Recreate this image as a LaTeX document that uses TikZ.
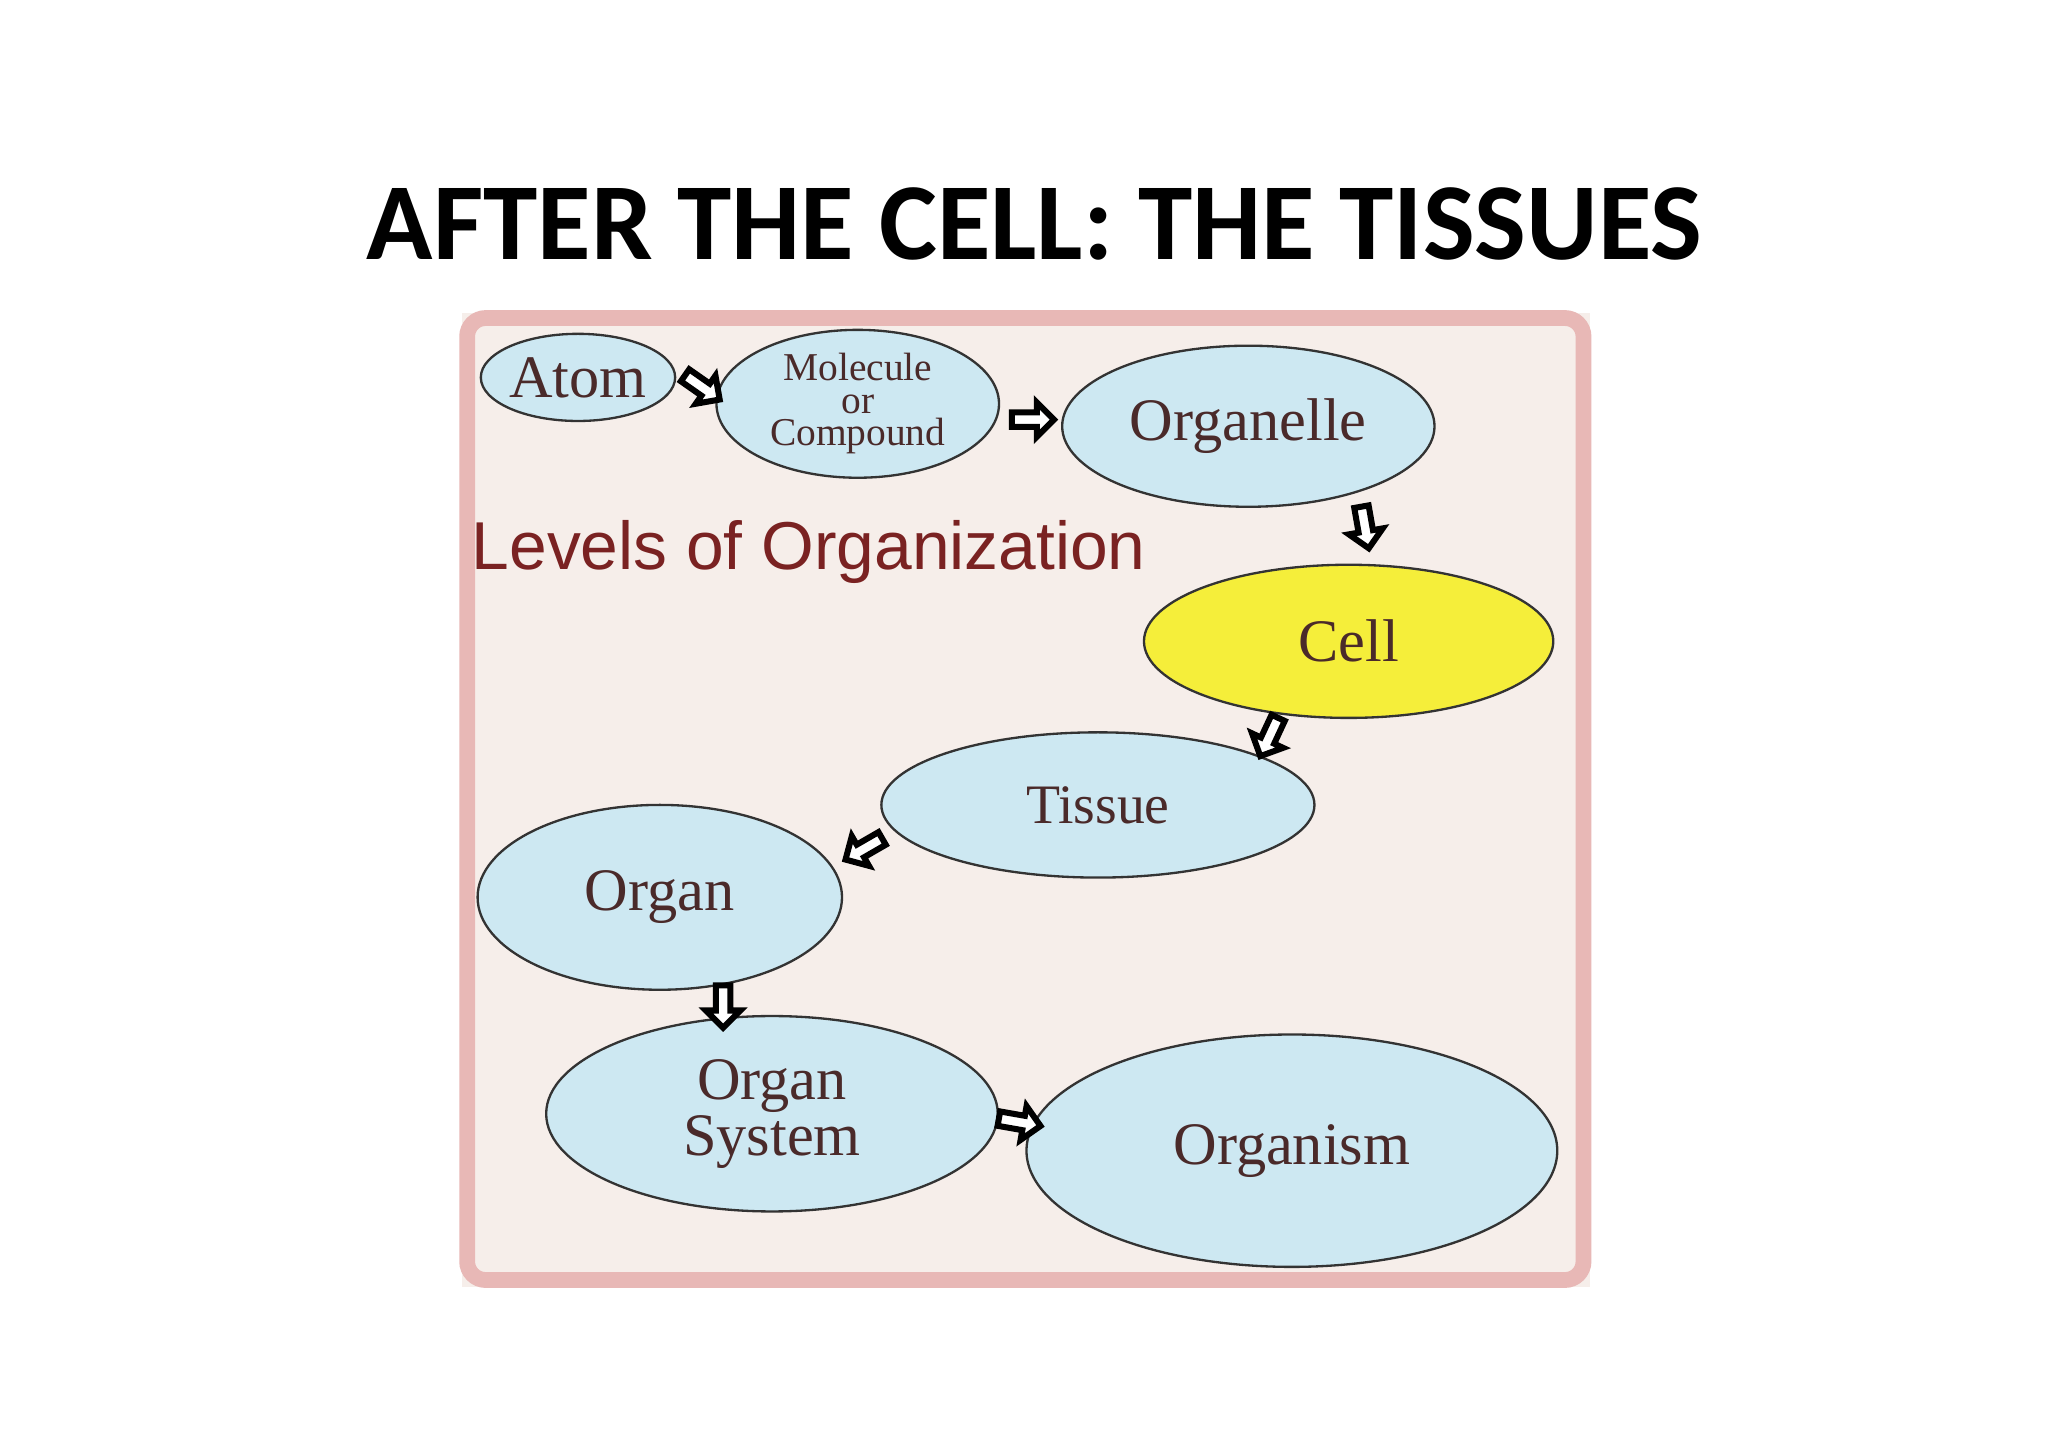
\documentclass[tikz,border=0pt]{standalone}
\usepackage{fontspec}
\setmainfont{Liberation Serif}
\newfontfamily\titlefont{Carlito}
\newfontfamily\lvlfont{Liberation Sans}
\usetikzlibrary{shapes.geometric,shapes.arrows}
\definecolor{ebl}{HTML}{CDE8F2}
\definecolor{eyl}{HTML}{F5EE3A}
\definecolor{txt}{HTML}{4A2A2A}
\definecolor{lvl}{HTML}{7A2222}
\definecolor{frm}{HTML}{E8B8B6}
\definecolor{bgp}{HTML}{F6EEEA}
\tikzset{
 lvlell/.style={ellipse,draw=black!80,line width=0.5pt,fill=ebl,inner sep=0pt,text=txt,align=center,font=\fontsize{13}{12}\selectfont},
 blk/.style={single arrow,draw=black,line width=1.3pt,fill=white,minimum height=0.32cm,minimum width=0.26cm,single arrow head extend=0.05cm,inner sep=0.4pt}
}
\begin{document}
\begin{tikzpicture}[x=0.01cm,y=-0.01cm]
\useasboundingbox (0,0) rectangle (1552,1097);
\fill[white] (0,0) rectangle (1552,1097);
\node[font=\titlefont\bfseries\fontsize{23.6}{28}\selectfont] (title) at (784,170) {AFTER THE CELL: THE TISSUES};
\fill[bgp] (350,237) rectangle (1205,975);
\node[anchor=west,text=lvl,font=\lvlfont\fontsize{14.6}{16}\selectfont] (lvltext) at (345,418) {Levels of Organization};
\draw[frm,line width=3.4pt,rounded corners=4pt] (354,241) rectangle (1200,970);
\node[lvlell,minimum width=1.46cm,minimum height=0.66cm] (atom) at (438,286) {Atom};
\node[lvlell,minimum width=2.14cm,minimum height=1.12cm,font=\fontsize{8.5}{7}\selectfont] (mol) at (650,306) {Molecule\\or\\Compound};
\node[lvlell,minimum width=2.82cm,minimum height=1.22cm] (orgl) at (946,323) {Organelle};
\node[lvlell,fill=eyl,minimum width=3.1cm,minimum height=1.16cm] (cell) at (1022,486) {Cell};
\node[lvlell,minimum width=3.28cm,minimum height=1.1cm,font=\fontsize{12}{12}\selectfont] (tis) at (832,610) {Tissue};
\node[lvlell,minimum width=2.76cm,minimum height=1.4cm] (organ) at (500,680) {Organ};
\node[lvlell,minimum width=3.42cm,minimum height=1.48cm] (osys) at (585,844) {Organ\\System};
\node[lvlell,minimum width=4.02cm,minimum height=1.76cm] (orgm) at (979,872) {Organism};
\node[blk,rotate=-35] (a1) at (530,292) {};
\node[blk] (a2) at (780,318) {};
\node[blk,rotate=-80] (a3) at (1034,397) {};
\node[blk,rotate=-115] (a4) at (963,556) {};
\node[blk,rotate=-150] (a5) at (657,642) {};
\node[blk,rotate=-90] (a6) at (548,760) {};
\node[blk,rotate=-10] (a7) at (770,850) {};
\end{tikzpicture}
\end{document}
